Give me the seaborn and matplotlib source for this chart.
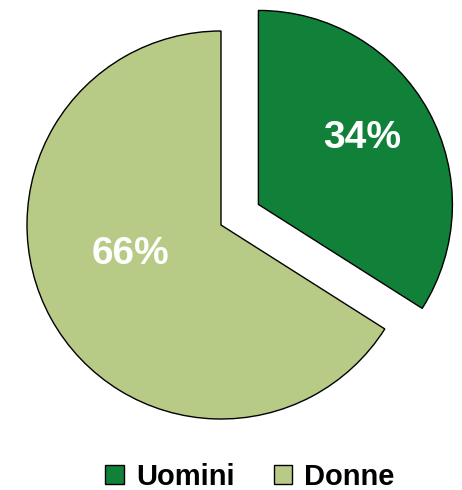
import matplotlib
matplotlib.use("Agg")
import matplotlib.pyplot as plt
from matplotlib.patches import Patch
import seaborn as sns

sns.set_theme(style="white")
plt.rcParams["font.family"] = ["Liberation Sans", "DejaVu Sans"]
plt.rcParams["text.color"] = "black"

categories = ["Uomini", "Donne"]
shares = [34, 66]
colors = ["#11813A", "#B7CB86"]
explode = [0.22, 0.0]

W, H = 462, 490
fig = plt.figure(figsize=(W / 100, H / 100), dpi=100)
ax = fig.add_axes([0, 0, 1, 1])

wedges, texts, autotexts = ax.pie(
    shares,
    colors=colors,
    explode=explode,
    startangle=90,
    counterclock=False,
    autopct="%d%%",
    pctdistance=0.6,
    wedgeprops=dict(edgecolor="black", linewidth=1.0),
    textprops=dict(color="white", fontsize=28, fontweight="bold"),
)

# nudge the percentage labels
autotexts[0].set_position((0.73, 0.45))
autotexts[1].set_position((-0.466, -0.147))

# one data unit = 194 px, pie centred at pixel (221, 225) from top
scale = 194.0
cx, cy = 221.0, H - 225.0
ax.set_xlim(-cx / scale, (W - cx) / scale)
ax.set_ylim(-cy / scale, (H - cy) / scale)
ax.set_aspect("auto")
ax.axis("off")

handles = [Patch(facecolor=c, edgecolor="black", linewidth=1.0) for c in colors]
leg = fig.legend(
    handles, categories,
    loc="center", bbox_to_anchor=(250 / W, 1 - 477 / H),
    ncol=2, frameon=False,
    prop=dict(family=["Liberation Sans", "DejaVu Sans"], weight="bold", size=21),
    handlelength=0.62, handleheight=0.62, handletextpad=0.42, columnspacing=1.35,
    borderaxespad=0, borderpad=0,
)
for t in leg.get_texts():
    t.set_color("black")

fig.savefig("out.png", dpi=100, facecolor="white")
